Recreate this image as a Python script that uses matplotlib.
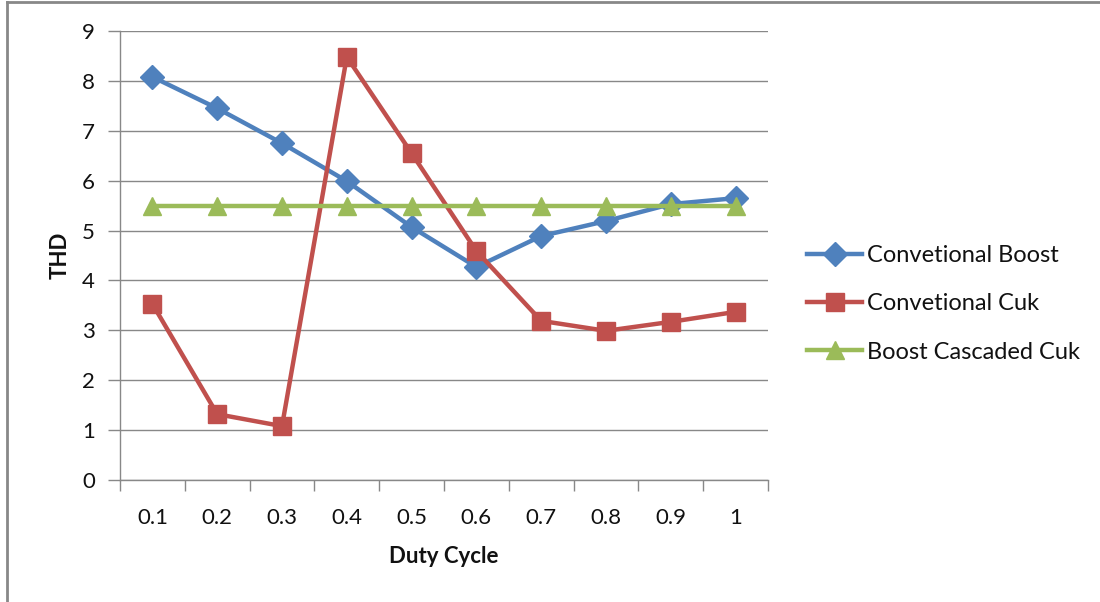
import matplotlib
matplotlib.use("Agg")
import matplotlib.pyplot as plt
from matplotlib.lines import Line2D

plt.rcParams['font.family'] = ['Lato', 'DejaVu Sans']

duty = ["0.1", "0.2", "0.3", "0.4", "0.5", "0.6", "0.7", "0.8", "0.9", "1"]
boost = [8.08, 7.45, 6.75, 5.99, 5.07, 4.27, 4.89, 5.19, 5.53, 5.65]
cuk = [3.53, 1.32, 1.08, 8.48, 6.55, 4.59, 3.19, 2.99, 3.17, 3.37]
cascaded = [5.5, 5.5, 5.5, 5.5, 5.5, 5.5, 5.5, 5.5, 5.5, 5.5]
yticks = [0, 1, 2, 3, 4, 5, 6, 7, 8, 9]

BLUE = "#4F81BD"
RED = "#C0504D"
GREEN = "#9BBB59"
GRID = "#888888"
TEXT = "#111111"

fig = plt.figure(figsize=(11, 6.02), dpi=100)
ax = fig.add_axes([120 / 1100, 1 - 480 / 602, 648 / 1100, 449 / 602])

x = list(range(len(duty)))
ax.plot(x, boost, color=BLUE, lw=3.2, marker="D", ms=12, label="Convetional Boost", zorder=3)
ax.plot(x, cuk, color=RED, lw=3.2, marker="s", ms=13, label="Convetional Cuk", zorder=4)
ax.plot(x, cascaded, color=GREEN, lw=3.2, marker="^", ms=13, label="Boost Cascaded Cuk", zorder=5)

ax.set_xlim(-0.5, len(duty) - 0.5)
ax.set_ylim(0, 9)
ax.set_yticks(yticks)
ax.set_yticklabels([str(v) for v in yticks])
ax.set_xticks(x)
ax.set_xticklabels(duty)
ax.set_xticks([i - 0.5 for i in range(len(duty) + 1)], minor=True)

ax.yaxis.grid(True, color=GRID, lw=1)
ax.set_axisbelow(True)
for s in ["top", "right"]:
    ax.spines[s].set_visible(False)
for s in ["left", "bottom"]:
    ax.spines[s].set_color(GRID)
    ax.spines[s].set_linewidth(1)

ax.tick_params(axis="y", which="major", length=9, color=GRID, width=1, labelsize=16, pad=9, labelcolor=TEXT)
ax.tick_params(axis="x", which="major", length=0, labelsize=16, pad=20, labelcolor=TEXT)
ax.tick_params(axis="x", which="minor", length=8, color=GRID, width=1)

ax.set_xlabel("Duty Cycle", fontsize=16, fontweight="bold", labelpad=13, color=TEXT)
ax.set_ylabel("THD", fontsize=16, fontweight="bold", labelpad=8, color=TEXT)

leg = ax.legend(loc="center left", bbox_to_anchor=(807 / 1100, 1 - 304 / 602), bbox_transform=fig.transFigure,
                frameon=False, fontsize=17, handlelength=2.35, labelspacing=1.15, handletextpad=0.2,
                borderpad=0, borderaxespad=0)
for t in leg.get_texts():
    t.set_color(TEXT)

# outer chart-area border
fig.add_artist(Line2D([7 / 1100, 7 / 1100], [0, 1 - 2 / 602], transform=fig.transFigure, color="#888888", lw=2))
fig.add_artist(Line2D([7 / 1100, 1], [1 - 2 / 602, 1 - 2 / 602], transform=fig.transFigure, color="#888888", lw=2))

fig.savefig("out.png", dpi=100, facecolor="white")
